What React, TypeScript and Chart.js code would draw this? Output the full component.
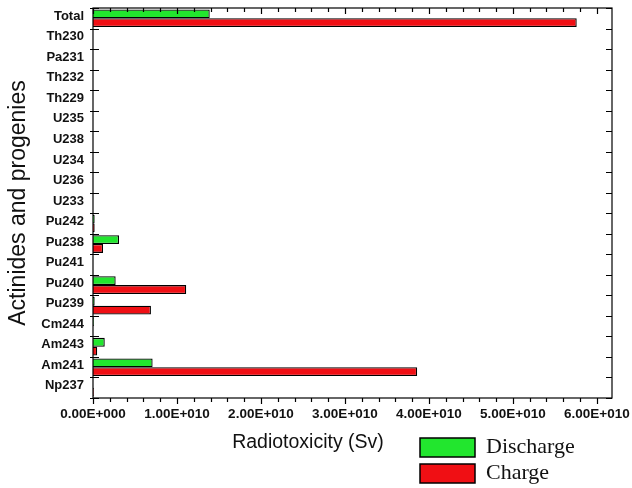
import React, { useEffect, useRef } from "react";
import { Chart, registerables } from "chart.js";

Chart.register(...registerables);

const categories = [
  "Total", "Th230", "Pa231", "Th232", "Th229", "U235", "U238", "U234", "U236", "U233",
  "Pu242", "Pu238", "Pu241", "Pu240", "Pu239", "Cm244", "Am243", "Am241", "Np237",
];
const dischargeValues = [
  1.39e10, 0, 0, 0, 0, 0, 0, 0, 0, 0,
  0.02e10, 0.31e10, 0, 0.27e10, 0.02e10, 0.01e10, 0.14e10, 0.71e10, 0,
];
const chargeValues = [
  5.76e10, 0, 0, 0, 0, 0, 0, 0, 0, 0,
  0.02e10, 0.12e10, 0, 1.11e10, 0.69e10, 0, 0.05e10, 3.86e10, 0.01e10,
];
const xTickValues = [0, 1e10, 2e10, 3e10, 4e10, 5e10, 6e10];
const xTickLabels = [
  "0.00E+000", "1.00E+010", "2.00E+010", "3.00E+010", "4.00E+010", "5.00E+010", "6.00E+010",
];
const seriesNames = ["Discharge", "Charge"];
const xTitle = "Radiotoxicity (Sv)";
const yTitle = "Actinides and progenies";

const GREEN = "#22e62e";
const RED = "#f00f14";

const decorPlugin = {
  id: "decor",
  afterDraw(chart: any) {
    const { ctx, chartArea } = chart;
    const { left, right, top, bottom } = chartArea;
    const xs = chart.scales.x;
    const ys = chart.scales.y;
    ctx.save();
    ctx.strokeStyle = "#000";
    ctx.lineWidth = 1.2;
    ctx.strokeRect(left, top, right - left, bottom - top);
    for (let k = 0; k <= 30; k++) {
      const v = k * 2e9;
      if (v > xs.max) break;
      const px = Math.round(xs.getPixelForValue(v)) + 0.5;
      const major = k % 5 === 0;
      const len = major ? 6 : 4;
      ctx.beginPath();
      ctx.moveTo(px, bottom);
      ctx.lineTo(px, bottom + len);
      ctx.moveTo(px, top);
      ctx.lineTo(px, top + len);
      ctx.stroke();
    }
    const n = categories.length;
    const band = ys.getPixelForValue(1) - ys.getPixelForValue(0);
    for (let i = 0; i <= n; i++) {
      const py = Math.round(ys.getPixelForValue(i) - band / 2) + 0.5;
      ctx.beginPath();
      ctx.moveTo(left - 3, py);
      ctx.lineTo(left + 6, py);
      ctx.moveTo(right, py);
      ctx.lineTo(right - 6, py);
      ctx.stroke();
    }
    ctx.fillStyle = "#111";
    ctx.font = "19.5px 'Liberation Sans', Arial, sans-serif";
    ctx.textAlign = "center";
    ctx.textBaseline = "middle";
    ctx.fillText(xTitle, 308, 443);
    ctx.save();
    ctx.translate(19, 203);
    ctx.rotate(-Math.PI / 2);
    ctx.font = "23px 'Liberation Sans', Arial, sans-serif";
    ctx.fillText(yTitle, 0, 0);
    ctx.restore();
    const ds = chart.data.datasets;
    const boxes = [438, 464];
    ctx.font = "22px 'Liberation Serif', 'Times New Roman', serif";
    ctx.textAlign = "left";
    ds.forEach((d: any, i: number) => {
      const y = boxes[i];
      ctx.fillStyle = d.backgroundColor;
      ctx.fillRect(420, y, 55, 19);
      ctx.lineWidth = 1.5;
      ctx.strokeStyle = "#000";
      ctx.strokeRect(420, y, 55, 19);
      ctx.fillStyle = "#111";
      ctx.fillText(d.label, 486, y + 9);
    });
    ctx.restore();
  },
};

export default function App() {
  const ref = useRef<HTMLCanvasElement | null>(null);
  useEffect(() => {
    if (!ref.current) return;
    const chart = new Chart(ref.current, {
      type: "bar",
      data: {
        labels: categories,
        datasets: [
          {
            label: seriesNames[0],
            data: dischargeValues,
            backgroundColor: GREEN,
            borderColor: "#000",
            borderWidth: 1.3,
            categoryPercentage: 0.86,
            barPercentage: 1,
          },
          {
            label: seriesNames[1],
            data: chargeValues,
            backgroundColor: RED,
            borderColor: "#000",
            borderWidth: 1.3,
            categoryPercentage: 0.86,
            barPercentage: 1,
          },
        ],
      },
      options: {
        indexAxis: "y",
        animation: false,
        responsive: false,
        maintainAspectRatio: false,
        layout: { padding: { top: 8, right: 20, left: 0, bottom: 0 } },
        plugins: { legend: { display: false }, tooltip: { enabled: false } },
        scales: {
          x: {
            type: "linear",
            bounds: "data",
            min: 0,
            max: 6.18e10,
            grid: { display: false, drawTicks: false },
            border: { display: false },
            afterBuildTicks: (s: any) => {
              s.ticks = xTickValues.map((v) => ({ value: v }));
            },
            ticks: {
              maxRotation: 0,
              autoSkip: false,
              padding: 8,
              color: "#111",
              font: { family: "'Liberation Sans', Arial, sans-serif", size: 13.5, weight: "bold" },
              callback: (v: any) => {
                const i = xTickValues.indexOf(Number(v));
                return i >= 0 ? xTickLabels[i] : "";
              },
            },
            afterFit: (s: any) => {
              s.height = 90;
              s.paddingLeft = 0;
              s.paddingRight = 0;
            },
          },
          y: {
            type: "category",
            grid: { display: false, offset: true, drawTicks: false },
            border: { display: false },
            offset: true,
            ticks: {
              padding: 9,
              autoSkip: false,
              labelOffset: -2,
              color: "#111",
              font: { family: "'Liberation Sans', Arial, sans-serif", size: 13, weight: "bold" },
            },
            afterFit: (s: any) => {
              s.width = 93;
              s.paddingTop = 0;
              s.paddingBottom = 0;
            },
          },
        },
      },
      plugins: [decorPlugin],
    } as any);
    return () => chart.destroy();
  }, []);
  return (
    <div style={{ position: "fixed", left: 0, top: 0, width: 632, height: 488, background: "#fff" }}>
      <canvas ref={ref} width={632} height={488} style={{ display: "block", width: 632, height: 488 }} />
    </div>
  );
}
